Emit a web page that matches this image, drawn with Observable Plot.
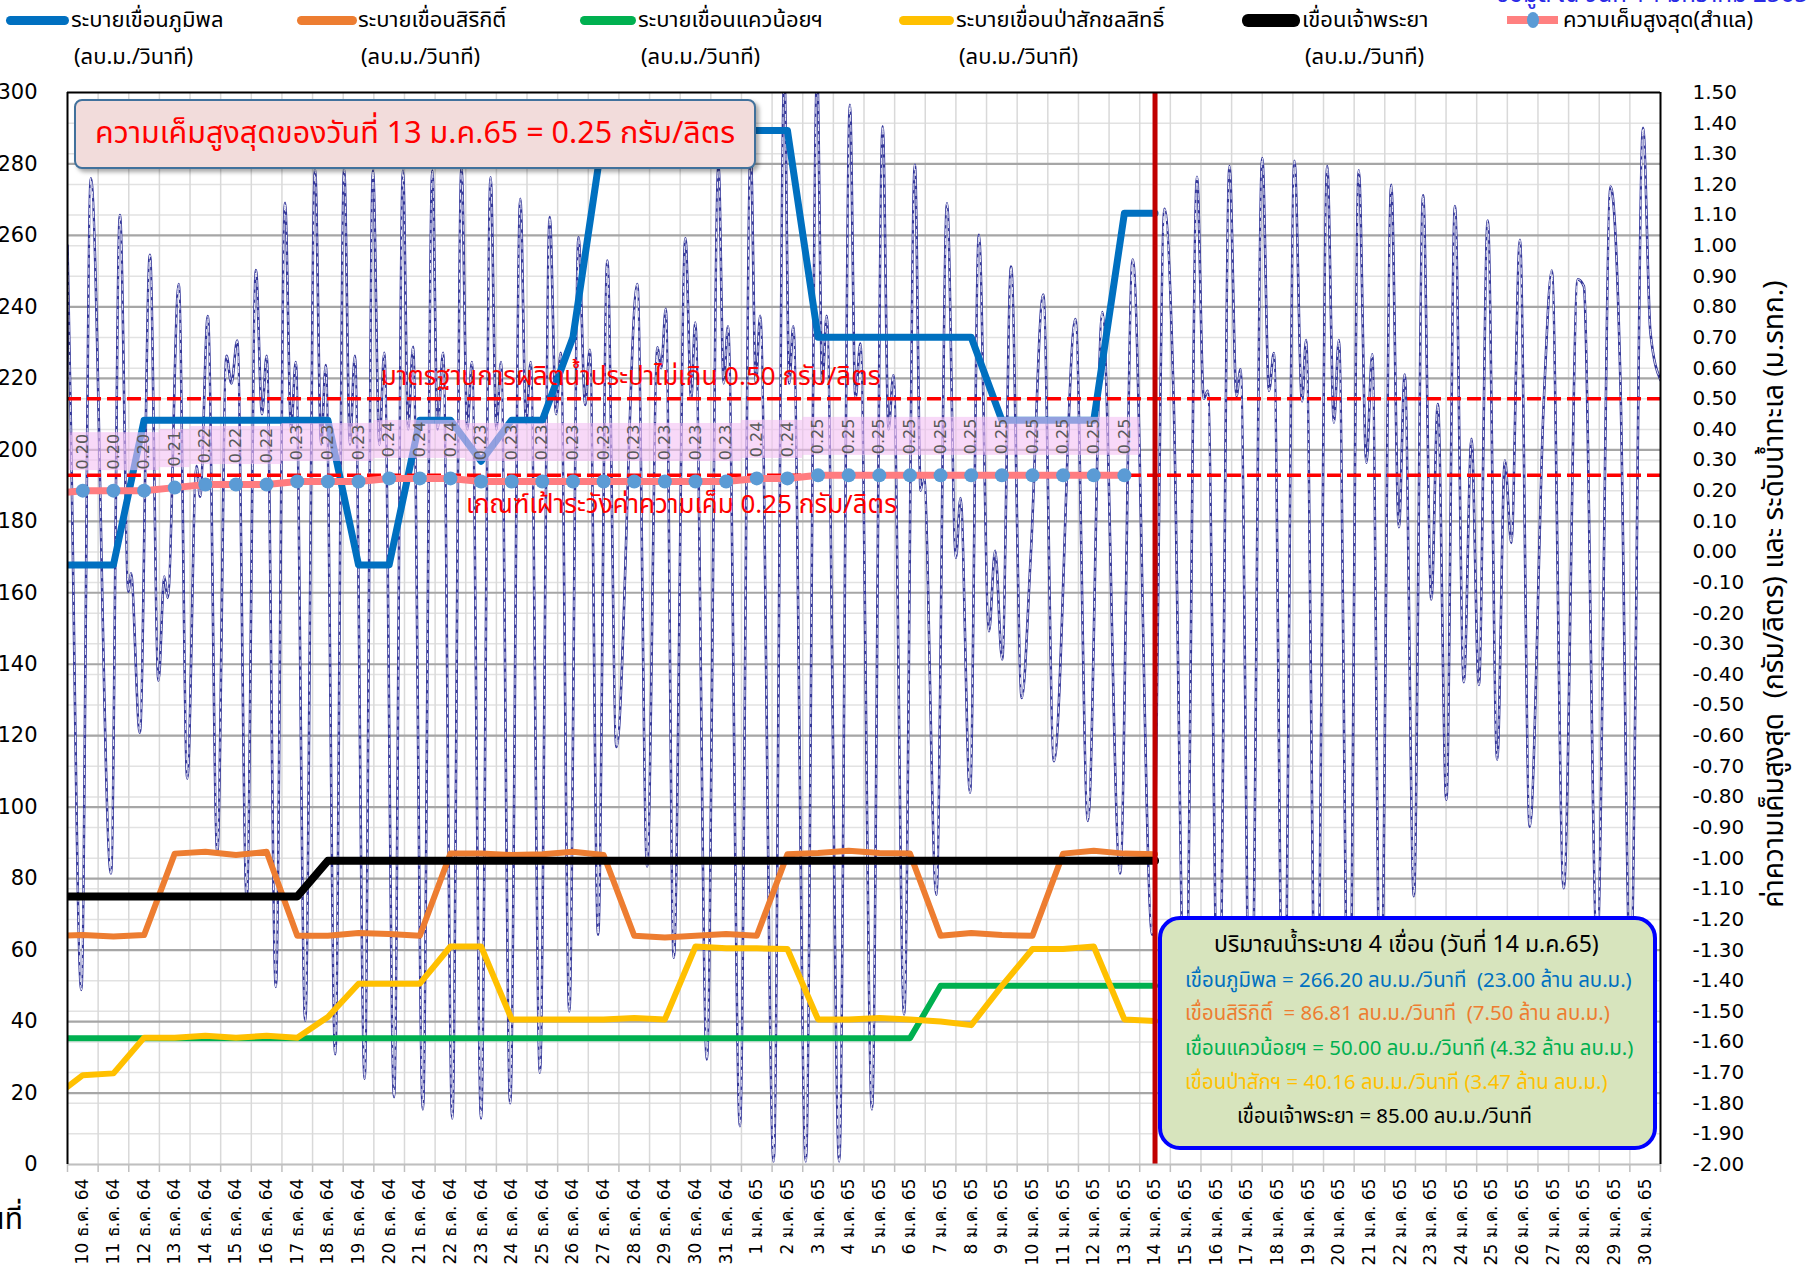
<!DOCTYPE html>
<html><head><meta charset="utf-8">
<script src="https://cdn.jsdelivr.net/npm/d3@7"></script>
<script src="https://cdn.jsdelivr.net/npm/@observablehq/plot@0.6"></script>
<style>
body{margin:0;background:#fff;}
#wrap{position:relative;width:1807px;height:1275px;overflow:hidden;background:#fff;font-family:'Noto Sans Thai','Tahoma','Noto Sans','DejaVu Sans',sans-serif;}
#wrap svg{position:absolute;left:0;top:0;}
.ov{position:absolute;white-space:nowrap;}
.sw{position:absolute;border-radius:6px;}
</style></head><body><div id="wrap"></div>
<script>
// ---------- DATA ----------
const dayLabels = ["10 ธ.ค. 64","11 ธ.ค. 64","12 ธ.ค. 64","13 ธ.ค. 64","14 ธ.ค. 64","15 ธ.ค. 64","16 ธ.ค. 64","17 ธ.ค. 64","18 ธ.ค. 64","19 ธ.ค. 64","20 ธ.ค. 64","21 ธ.ค. 64","22 ธ.ค. 64","23 ธ.ค. 64","24 ธ.ค. 64","25 ธ.ค. 64","26 ธ.ค. 64","27 ธ.ค. 64","28 ธ.ค. 64","29 ธ.ค. 64","30 ธ.ค. 64","31 ธ.ค. 64",
"1 ม.ค. 65","2 ม.ค. 65","3 ม.ค. 65","4 ม.ค. 65","5 ม.ค. 65","6 ม.ค. 65","7 ม.ค. 65","8 ม.ค. 65","9 ม.ค. 65","10 ม.ค. 65","11 ม.ค. 65","12 ม.ค. 65","13 ม.ค. 65","14 ม.ค. 65","15 ม.ค. 65","16 ม.ค. 65","17 ม.ค. 65","18 ม.ค. 65","19 ม.ค. 65","20 ม.ค. 65","21 ม.ค. 65","22 ม.ค. 65","23 ม.ค. 65","24 ม.ค. 65","25 ม.ค. 65","26 ม.ค. 65","27 ม.ค. 65","28 ม.ค. 65","29 ม.ค. 65","30 ม.ค. 65"];
const leftTicks = [0,20,40,60,80,100,120,140,160,180,200,220,240,260,280,300];
const rightTicks = [-2.0,-1.9,-1.8,-1.7,-1.6,-1.5,-1.4,-1.3,-1.2,-1.1,-1.0,-0.9,-0.8,-0.7,-0.6,-0.5,-0.4,-0.3,-0.2,-0.1,0.0,0.1,0.2,0.3,0.4,0.5,0.6,0.7,0.8,0.9,1.0,1.1,1.2,1.3,1.4,1.5];

// daily discharge (m3/s), 9 Dec 64 .. 14 Jan 65
const bhumibol = [167.8,167.8,167.8,208.3,208.3,208.3,208.3,208.3,208.3,208.3,167.8,167.8,208.3,208.3,196.8,208.3,208.3,231.5,289.4,289.4,289.4,289.4,289.4,289.4,289.4,231.5,231.5,231.5,231.5,231.5,231.5,208.3,208.3,208.3,208.3,266.2,266.2];
const sirikit = [64.0,64.2,63.8,64.2,87.0,87.5,86.6,87.5,64.0,64.0,64.8,64.5,64.0,87.0,87.0,86.6,86.8,87.5,86.6,64.0,63.5,64.0,64.5,64.0,86.8,87.2,87.8,87.2,87.0,64.0,64.8,64.2,64.0,87.0,87.8,87.0,86.81];
const kwaeNoi = [35.3,35.3,35.3,35.3,35.3,35.3,35.3,35.3,35.3,35.3,35.3,35.3,35.3,35.3,35.3,35.3,35.3,35.3,35.3,35.3,35.3,35.3,35.3,35.3,35.3,35.3,35.3,35.3,35.3,50.0,50.0,50.0,50.0,50.0,50.0,50.0,50.0];
const pasak = [18.5,25.0,25.5,35.5,35.5,36.0,35.5,36.0,35.5,41.3,50.6,50.6,50.6,61.0,61.0,40.6,40.6,40.6,40.6,41.0,40.6,61.0,60.5,60.5,60.3,40.6,40.6,41.0,40.6,40.0,39.0,50.0,60.3,60.3,61.0,40.6,40.16];
const chaoPhraya = [75,75,75,75,75,75,75,75,75,85,85,85,85,85,85,85,85,85,85,85,85,85,85,85,85,85,85,85,85,85,85,85,85,85,85,85,85];
// max salinity (g/l), 9 Dec 64 .. 13 Jan 65
const salinity = [0.19,0.20,0.20,0.20,0.21,0.22,0.22,0.22,0.23,0.23,0.23,0.24,0.24,0.24,0.23,0.23,0.23,0.23,0.23,0.23,0.23,0.23,0.23,0.24,0.24,0.25,0.25,0.25,0.25,0.25,0.25,0.25,0.25,0.25,0.25,0.25];
// sea level (m MSL): turning points, time in days after 10 Dec 64 00:00
const tideDay = [0.00,0.10,0.45,0.76,1.42,1.71,1.99,2.07,2.36,2.69,2.97,3.16,3.27,3.63,3.91,4.21,4.33,4.58,4.89,5.19,5.35,5.54,5.85,6.15,6.35,6.50,6.80,7.10,7.30,7.45,7.76,8.08,8.28,8.43,8.74,9.03,9.22,9.38,9.70,9.97,10.18,10.34,10.66,10.95,11.12,11.28,11.60,11.91,12.08,12.26,12.56,12.86,13.05,13.20,13.50,13.81,14.00,14.15,14.45,14.78,14.97,15.12,15.42,15.74,15.95,16.10,16.38,16.68,16.90,17.05,17.32,17.62,17.92,18.60,18.92,19.26,19.38,19.53,19.79,20.17,20.36,20.49,20.87,21.25,21.42,21.56,21.95,22.30,22.47,22.61,23.05,23.40,23.56,23.69,24.10,24.47,24.64,24.78,25.19,25.54,25.72,25.88,26.26,26.61,26.80,26.96,27.31,27.66,27.85,27.95,28.36,28.71,29.00,29.15,29.46,29.75,30.08,30.28,30.51,30.80,31.15,31.44,31.85,32.20,32.90,33.31,33.78,34.36,34.77,35.41,35.81,36.11,36.49,36.87,37.09,37.22,37.58,37.93,38.16,38.29,38.62,39.00,39.22,39.38,39.70,40.05,40.30,40.43,40.77,41.12,41.34,41.50,41.83,42.15,42.40,42.59,42.86,43.21,43.46,43.65,43.95,44.25,44.52,44.73,45.01,45.29,45.58,45.83,46.07,46.36,46.67,46.92,47.13,47.41,47.73,48.19,48.45,48.84,49.30,49.50,49.93,50.37,50.69,51.02,51.43,51.67,52.00];
const tideLevel = [1.00,0.47,-1.43,1.22,-1.05,1.10,-0.13,-0.07,-0.59,0.97,-0.42,-0.08,-0.15,0.875,-0.74,0.28,0.18,0.77,-0.98,0.64,0.55,0.69,-1.13,0.92,0.45,0.64,-1.42,1.14,0.40,0.62,-1.53,1.25,0.35,0.61,-1.64,1.25,0.35,0.64,-1.72,1.245,0.35,0.65,-1.78,1.245,0.40,0.67,-1.82,1.245,0.40,0.65,-1.85,1.256,0.40,0.62,-1.85,1.223,0.40,0.62,-1.80,1.153,0.42,0.62,-1.70,1.093,0.45,0.65,-1.50,1.027,0.48,0.66,-1.25,0.951,-0.637,0.875,-1.027,0.668,0.60,0.794,-1.325,1.024,0.50,0.749,-1.657,1.264,0.55,0.737,-1.875,1.31,0.55,0.771,-1.99,1.56,0.55,0.737,-1.99,1.56,0.55,0.771,-1.99,1.46,0.50,0.68,-1.82,1.39,0.40,0.577,-1.51,1.264,0.20,0.256,-1.119,1.138,-0.019,0.176,-0.786,1.035,-0.259,0.004,-0.351,0.932,-0.477,-0.019,0.84,-0.683,0.76,-0.878,0.783,-1.05,0.955,-1.25,1.12,0.491,-1.6,1.225,0.50,0.526,-1.7,1.26,0.509,0.596,-1.8,1.286,0.526,0.649,-1.8,1.277,0.491,0.692,-1.8,1.26,0.422,0.692,-1.75,1.246,0.291,0.645,-1.6,1.199,0.081,0.579,-1.124,1.164,-0.155,0.483,-0.809,1.129,-0.425,0.369,-0.434,1.082,-0.678,0.299,0.029,1.019,-0.897,0.491,0.919,-1.098,0.89,0.867,-1.3,1.193,0.561,-1.4,1.385,0.718,0.561];
const todayIndex = 35; // 14 ม.ค. 65
const standardLimit = 0.50, watchLimit = 0.25;

// ---------- helpers ----------
const toLeft = r => (r + 2) * 300 / 3.5;          // right-axis value -> left-axis units
const daily = arr => arr.map((v, k) => ({x: k - 0.5, y: v}));
const salRows = salinity.map((s, k) => ({x: k - 0.5, s, y: toLeft(s)}));
const salShown = salRows.slice(1);
const tide = tideDay.map((t, i) => ({x: t, y: toLeft(tideLevel[i])}));
const pxU = 300 / 1072; // one pixel in left-axis units (label box offsets)

const fmtR = d => { const r = Math.round((d * 3.5 / 300 - 2) * 100) / 100; return (r < 0 ? "-" : "") + Math.abs(r).toFixed(2); };

const lineOpts = {curve: "linear", strokeLinejoin: "round", strokeLinecap: "round", clip: true};
const thaiFont = "'Noto Sans Thai', Tahoma, sans-serif";

const chart = Plot.plot({
  width: 1807, height: 1275,
  marginLeft: 67, marginRight: 147, marginTop: 92, marginBottom: 111,
  x: {type: "linear", domain: [0, 52]},
  y: {domain: [0, 300]},
  style: {fontFamily: "'DejaVu Sans', Verdana, sans-serif", fontSize: "16px", background: "transparent", overflow: "visible"},
  marks: [
    Plot.ruleY(rightTicks.map(toLeft), {stroke: "#e2e2e2", strokeWidth: 1.5}),
    Plot.ruleX(d3.range(1, 52), {stroke: "#d9d9d9", strokeWidth: 1.5}),
    Plot.ruleY(leftTicks.slice(1, -1), {stroke: "#a6a6a6", strokeWidth: 2.2}),
    Plot.axisX(d3.range(0, 53), {anchor: "bottom", tickSize: 8, tickFormat: () => "", stroke: "#bfbfbf", strokeWidth: 1.5, label: null}),
    Plot.axisX(d3.range(0, 52).map(i => i + 0.5), {anchor: "bottom", tickSize: 0, tickPadding: 14, tickRotate: -90, fontSize: 17, tickFormat: d => dayLabels[Math.floor(d)], label: null}),
    Plot.axisY(leftTicks, {anchor: "left", tickSize: 0, tickPadding: 30, fontSize: 21, tickFormat: d => String(d), label: null}),
    Plot.axisY(rightTicks.map(toLeft), {anchor: "right", tickSize: 0, tickPadding: 32, fontSize: 20, tickFormat: fmtR, label: null}),
    // sea level
    Plot.line(tide, {x: "x", y: "y", curve: "monotone-x", stroke: "#34379a", strokeWidth: 2.6, clip: true}),
    Plot.line(tide, {x: "x", y: "y", curve: "monotone-x", stroke: "#ffffff", strokeWidth: 0.9, strokeDasharray: "6,4", clip: true}),
    // dam releases
    Plot.line(daily(kwaeNoi), {x: "x", y: "y", stroke: "#00b050", strokeWidth: 6, ...lineOpts}),
    Plot.line(daily(pasak), {x: "x", y: "y", stroke: "#ffc000", strokeWidth: 6, ...lineOpts}),
    Plot.line(daily(sirikit), {x: "x", y: "y", stroke: "#ed7d31", strokeWidth: 6, ...lineOpts}),
    Plot.line(daily(chaoPhraya), {x: "x", y: "y", stroke: "#000000", strokeWidth: 8, ...lineOpts}),
    Plot.line(daily(bhumibol), {x: "x", y: "y", stroke: "#0070c0", strokeWidth: 7, ...lineOpts}),
    // salinity limits
    Plot.ruleY([toLeft(standardLimit), toLeft(watchLimit)], {stroke: "#ff0000", strokeWidth: 3.5, strokeDasharray: "14,6"}),
    Plot.text(["มาตรฐานการผลิตน้ำประปาไม่เกิน 0.50 กรัม/ลิตร"], {x: 18.38, y: toLeft(standardLimit), dy: -22, fill: "#ff0000", fontSize: 26, fontFamily: thaiFont}),
    Plot.text(["เกณฑ์เฝ้าระวังค่าความเค็ม 0.25 กรัม/ลิตร"], {x: 20.04, y: toLeft(watchLimit), dy: 29, fill: "#ff0000", fontSize: 26, fontFamily: thaiFont}),
    // salinity
    Plot.line(salRows, {x: "x", y: "y", stroke: "#ff7c80", strokeWidth: 7, ...lineOpts}),
    Plot.dot(salShown, {x: "x", y: "y", r: 7, fill: "#5b9bd5", clip: true}),
    Plot.rect(salShown, {x1: d => d.x - 0.5, x2: d => d.x + 0.5, y1: d => d.y + 20 * pxU, y2: d => d.y + 58 * pxU, fill: "#f3bff3", fillOpacity: 0.6}),
    Plot.text(salShown, {x: "x", y: "y", text: d => d.s.toFixed(2), rotate: -90, dy: -39, fontSize: 16, fill: "#595959"}),
    // today marker
    Plot.ruleX([todayIndex + 0.5], {stroke: "#c00000", strokeWidth: 5}),
    // frame
    Plot.ruleY([0], {stroke: "#bfbfbf", strokeWidth: 2}),
    Plot.ruleY([300], {stroke: "#000", strokeWidth: 2}),
    Plot.ruleX([0, 52], {stroke: "#000", strokeWidth: 2})
  ]
});
const wrap = document.getElementById("wrap");
wrap.appendChild(chart);

// ---------- overlays (legend, notes) ----------
const legend = [
  {name: "ระบายเขื่อนภูมิพล", color: "#0070c0", sx: 6, sw: 63, tx: 71, th: 9},
  {name: "ระบายเขื่อนสิริกิติ์", color: "#ed7d31", sx: 297, sw: 60, tx: 358, th: 9},
  {name: "ระบายเขื่อนแควน้อยฯ", color: "#00b050", sx: 580, sw: 56, tx: 638, th: 9},
  {name: "ระบายเขื่อนป่าสักชลสิทธิ์", color: "#ffc000", sx: 899, sw: 55, tx: 956, th: 9},
  {name: "เขื่อนเจ้าพระยา", color: "#000000", sx: 1242, sw: 58, tx: 1302, th: 13}
];
let html = "";
for (const l of legend) {
  html += `<div class="sw" style="left:${l.sx}px;top:${20 - l.th / 2}px;width:${l.sw}px;height:${l.th}px;background:${l.color}"></div>`;
  html += `<div class="ov" style="left:${l.tx}px;top:4px;font-size:22px;line-height:34px;">${l.name}</div>`;
  html += `<div class="ov" style="left:${l.tx + 3}px;top:41px;font-size:22px;line-height:34px;">(ลบ.ม./วินาที)</div>`;
}
html += `<div class="sw" style="left:1507px;top:16px;width:51px;height:8px;background:#ff8080;border-radius:0"></div>`;
html += `<div class="sw" style="left:1527px;top:12px;width:12px;height:16px;background:#5b9bd5;border-radius:50%"></div>`;
html += `<div class="ov" style="left:1563px;top:4px;font-size:22px;line-height:34px;">ความเค็มสูงสุด(สำแล)</div>`;
html += `<div class="ov" style="left:1496px;top:-22px;font-size:24px;line-height:34px;color:#2a2ae6;">ข้อมูล ณ วันที่ 14 มกราคม 2565</div>`;
// max salinity box
html += `<div class="ov" style="left:74px;top:99px;width:678px;height:66px;background:#f2dcdb;border:2.5px solid #41719c;border-radius:8px;box-shadow:3px 3px 4px rgba(0,0,0,0.35);color:#ff0000;font-size:30.5px;line-height:66px;text-align:center;">ความเค็มสูงสุดของวันที่ 13 ม.ค.65 = 0.25 กรัม/ลิตร</div>`;
// release summary box
html += `<div class="ov" style="left:1158px;top:916px;width:491px;height:226px;background:#d7e4bd;border:4px solid #0000ff;border-radius:22px;"></div>`;
const notes = [
  {t: "ปริมาณน้ำระบาย 4 เขื่อน (วันที่ 14 ม.ค.65)", c: "#000", x: 1214, y: 945, f: 23},
  {t: "เขื่อนภูมิพล = 266.20 ลบ.ม./วินาที&nbsp;&nbsp;(23.00 ล้าน ลบ.ม.)", c: "#0070c0", x: 1185, y: 981, f: 20.4},
  {t: "เขื่อนสิริกิติ์&nbsp;&nbsp;= 86.81 ลบ.ม./วินาที&nbsp;&nbsp;(7.50 ล้าน ลบ.ม.)", c: "#ed7d31", x: 1185, y: 1014, f: 20.4},
  {t: "เขื่อนแควน้อยฯ = 50.00 ลบ.ม./วินาที (4.32 ล้าน ลบ.ม.)", c: "#00b050", x: 1185, y: 1049, f: 20.4},
  {t: "เขื่อนป่าสักฯ = 40.16 ลบ.ม./วินาที (3.47 ล้าน ลบ.ม.)", c: "#ffc000", x: 1185, y: 1083, f: 20.4},
  {t: "เขื่อนเจ้าพระยา = 85.00 ลบ.ม./วินาที", c: "#000", x: 1237, y: 1117, f: 20.4}
];
for (const n of notes) html += `<div class="ov" style="left:${n.x}px;top:${n.y - 17}px;font-size:${n.f}px;line-height:34px;color:${n.c};">${n.t}</div>`;
// axis titles
html += `<div class="ov" style="left:1775px;top:594px;transform:translate(-50%,-50%) rotate(-90deg);font-size:28px;line-height:32px;">ค่าความเค็มสูงสุด&nbsp;&nbsp;(กรัม/ลิตร) และ ระดับน้ำทะเล (ม.รทก.)</div>`;
html += `<div class="ov" style="right:1784px;top:1200px;font-size:30px;line-height:40px;">วันที่</div>`;
wrap.insertAdjacentHTML("beforeend", html);
</script></body></html>
